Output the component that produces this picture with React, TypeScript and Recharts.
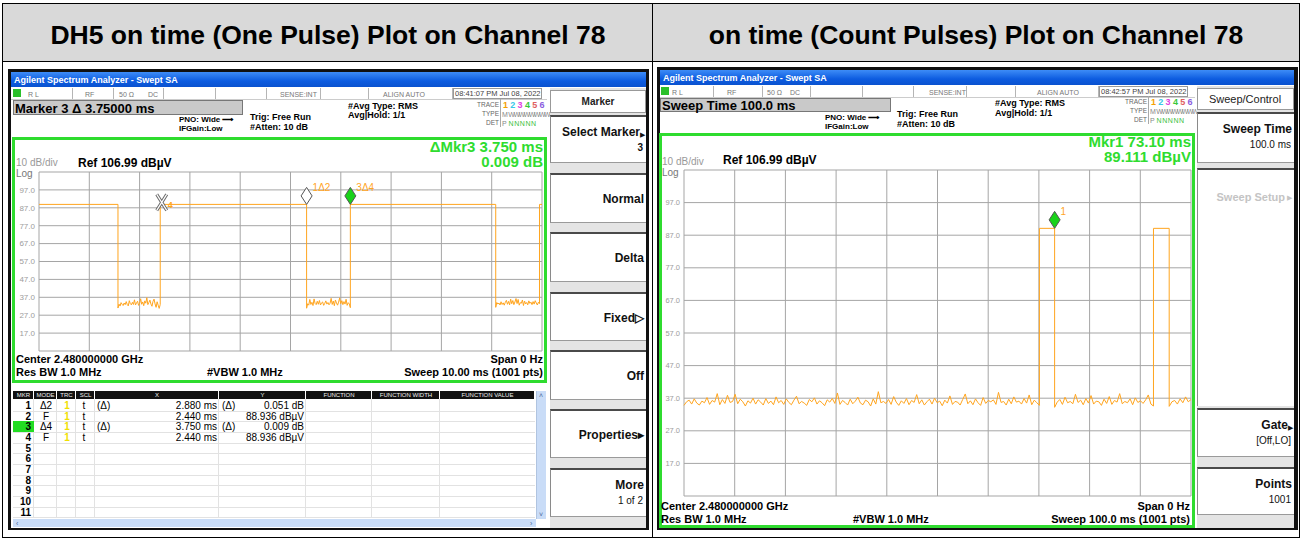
import React from 'react'
import { LineChart, Line, XAxis, YAxis, CartesianGrid, ReferenceDot } from 'recharts'

const FONT = '"Liberation Sans", Arial, sans-serif'
const TRACE = '#ffa51f'
const GREEN = '#2fdc2f'

const captions = ['DH5 on time (One Pulse) Plot on Channel 78', 'on time (Count Pulses) Plot on Channel 78']

// shared amplitude axis, dBµV (ref 106.99, 10 dB/div)
const yTicks = [7, 17, 27, 37, 47, 57, 67, 77, 87, 97, 107]

// left: 10 ms sweep, one pulse
const oneXTicks = [0, 1, 2, 3, 4, 5, 6, 7, 8, 9, 10]
const oneEdges = [1.57, 2.41, 5.32, 6.19, 9.08, 9.95]
const oneHigh = 88.9
const oneNoiseA = [31.0, 33.2, 32.1, 34.0, 33.1, 32.4, 33.8, 32.9, 34.6, 33.0, 32.2, 35.1, 33.4, 32.8, 34.2, 33.0, 35.6, 32.7, 33.9, 34.8, 32.5, 33.6, 36.2, 33.1, 34.4, 32.3, 35.0, 33.7, 36.8, 32.9, 34.1, 35.4, 33.2, 32.0, 34.7, 36.0, 33.3, 31.4, 34.5, 32.6, 30.8, 33.0]
const oneNoiseB = [30.9, 33.4, 32.6, 35.8, 33.0, 34.2, 32.4, 36.1, 33.5, 32.9, 34.8, 33.1, 35.2, 32.7, 33.9, 34.4, 32.5, 33.6, 35.0, 33.2, 34.1, 32.8, 33.7, 36.4, 33.0, 34.9, 32.3, 35.5, 33.8, 32.6, 34.3, 36.7, 33.4, 35.1, 32.9, 34.6, 33.2, 35.9, 32.5, 34.0, 33.3, 31.2]
const oneNoiseC = [31.4, 34.1, 33.2, 33.8, 32.7, 34.5, 33.0, 33.9, 32.6, 34.2, 35.3, 33.1, 34.7, 32.8, 36.0, 33.4, 35.2, 32.9, 34.4, 36.3, 33.5, 35.8, 32.6, 34.0, 33.7, 35.5, 32.4, 34.9, 33.3, 34.1, 32.8, 35.0, 33.6, 34.3, 32.9, 34.6, 33.2, 35.1, 33.8, 32.7, 34.2, 33.5]

// right: 100 ms sweep, two pulses
const countXTicks = [0, 10, 20, 30, 40, 50, 60, 70, 80, 90, 100]
const countEdges = [70.1, 73.1, 92.6, 95.7]
const countHigh = 89.1
const countNoiseA = [
  34.8, 35.9, 36.4, 35.2, 36.8, 35.5, 34.9, 36.1, 35.6, 37.2, 35.1, 36.3, 35.8, 38.4, 35.0, 36.6, 35.4, 37.9, 35.7, 36.0,
  38.2, 35.3, 36.7, 35.9, 34.6, 36.2, 35.5, 37.0, 35.2, 36.5, 35.8, 34.9, 36.9, 35.4, 36.1, 35.0, 37.4, 35.6, 36.3, 35.1,
  36.8, 35.7, 35.0, 36.4, 37.6, 35.3, 36.0, 35.5, 34.8, 36.6, 35.9, 37.1, 35.2, 36.2, 35.6, 34.7, 36.5, 35.8, 36.9, 35.4,
  38.6, 35.1, 36.3, 35.7, 34.9, 36.7, 35.3, 36.1, 37.3, 35.5, 35.0, 36.4, 35.9, 34.6, 36.8, 35.2, 39.0, 35.6, 36.0, 35.4,
  36.6, 35.1, 37.5, 35.8, 34.8, 36.2, 35.4, 36.9, 35.0, 36.3, 35.7, 38.1, 35.3, 36.5, 34.9, 35.9, 36.7, 35.2, 37.0, 35.6,
  36.1, 34.7, 36.4, 35.5, 37.7, 35.1, 36.0, 35.8, 34.9, 36.6, 38.3, 35.3, 36.2, 35.0, 36.8, 35.6, 34.8, 37.2, 35.4, 36.3,
  35.9, 36.5, 35.1, 38.8, 35.7, 36.0, 34.9, 36.7, 35.3, 37.4, 35.8, 36.1, 35.2, 36.9, 35.5, 38.0, 35.0, 36.4, 35.6, 34.8,
]
const countNoiseB = [34.2, 35.8, 36.6, 35.1, 37.3, 35.6, 36.0, 35.3, 38.2, 35.7, 36.4, 35.0, 36.9, 35.5, 37.8, 35.2, 36.1, 35.9, 34.8, 36.7, 35.4, 37.5, 35.1, 36.3, 35.8, 38.4, 35.3, 36.0, 35.6, 36.8, 35.0, 37.1, 35.7, 36.2, 35.4, 36.5, 38.0, 35.2, 34.6]
const countNoiseC = [34.5, 35.9, 36.3, 35.2, 36.8, 35.6, 37.4, 35.9, 36.6]

type Pt = { t: number; v: number }
type Mk = { id: string; t: number; v: number; kind: 'open' | 'filled' | 'x'; label: string }

const oneMarkers: Mk[] = [
  { id: 'm4', t: 2.44, v: 88.9, kind: 'x', label: '4' },
  { id: 'm1', t: 5.32, v: 88.9, kind: 'open', label: '1Δ2' },
  { id: 'm3', t: 6.19, v: 88.9, kind: 'filled', label: '3Δ4' },
]
const countMarkers: Mk[] = [{ id: 'm1', t: 73.1, v: 89.1, kind: 'filled', label: '1' }]

const markerRows = [
  ['1', 'Δ2', '1', 't', '(Δ)', '2.880 ms', '(Δ)', '0.051 dB'],
  ['2', 'F', '1', 't', '', '2.440 ms', '', '88.936 dBµV'],
  ['3', 'Δ4', '1', 't', '(Δ)', '3.750 ms', '(Δ)', '0.009 dB'],
  ['4', 'F', '1', 't', '', '2.440 ms', '', '88.936 dBµV'],
  ['5'], ['6'], ['7'], ['8'], ['9'], ['10'], ['11'],
]

function buildTrace(edges: number[], end: number, startHigh: boolean, high: number, noise: number[][]): Pt[] {
  const bounds = [0, ...edges, end]
  const pts: Pt[] = []
  let isHigh = startHigh
  let n = 0
  for (let i = 0; i < bounds.length - 1; i++) {
    const a = bounds[i]
    const b = bounds[i + 1]
    if (isHigh) {
      pts.push({ t: a, v: high }, { t: b, v: high })
    } else {
      const vals = noise[n++]
      vals.forEach((v, k) => pts.push({ t: a + ((b - a) * k) / (vals.length - 1), v }))
    }
    isHigh = !isHigh
  }
  return pts
}

const oneTrace = buildTrace(oneEdges, 10, true, oneHigh, [oneNoiseA, oneNoiseB, oneNoiseC])
const countTrace = buildTrace(countEdges, 100, false, countHigh, [countNoiseA, countNoiseB, countNoiseC])

function Tx({ x, cy, size = 10, bold = false, color = '#000', align = 'left', children, style }: any) {
  const W = 400
  const left = align === 'left' ? x : align === 'right' ? x - W : x - W / 2
  return (
    <div
      style={{
        position: 'absolute', left, top: cy - size / 2, width: align === 'left' ? undefined : W,
        textAlign: align, fontSize: size, lineHeight: `${size}px`, fontWeight: bold ? 700 : 400,
        color, whiteSpace: 'nowrap', fontFamily: FONT, ...style,
      }}
    >
      {children}
    </div>
  )
}

function Rect({ x, y, w, h, style }: any) {
  return <div style={{ position: 'absolute', left: x, top: y, width: w, height: h, boxSizing: 'border-box', ...style }} />
}

function MarkerShape({ cx, cy, m }: any) {
  if (m.kind === 'x') {
    const d = `M${cx - 5},${cy - 10} L${cx + 5},${cy + 6} M${cx + 5},${cy - 10} L${cx - 5},${cy + 6}`
    return (
      <g>
        <path d={d} stroke="#6a6a6a" strokeWidth={3.2} />
        <path d={d} stroke="#ffffff" strokeWidth={1.2} />
        <text x={cx + 6} y={cy + 4} fill={TRACE} fontSize={9} fontWeight="bold" fontFamily={FONT}>{m.label}</text>
      </g>
    )
  }
  const d = `M${cx},${cy} L${cx + 5.5},${cy - 8.5} L${cx},${cy - 17} L${cx - 5.5},${cy - 8.5} Z`
  return (
    <g>
      <path d={d} fill={m.kind === 'filled' ? '#19d219' : '#ffffff'} stroke="#555" strokeWidth={1} />
      <text x={cx + 6} y={cy - 13} fill={TRACE} fontSize={10} fontFamily={FONT}>{m.label}</text>
    </g>
  )
}

function TracePlot({ left, top, plotW, plotH, data, xMax, xTicks, markers, tickSize }: any) {
  return (
    <div style={{ position: 'absolute', left, top }}>
      <LineChart width={26 + plotW + 1} height={plotH + 2} data={data} margin={{ top: 1, right: 1, bottom: 1, left: 0 }}>
        <CartesianGrid stroke="#a5a5a5" />
        <XAxis type="number" dataKey="t" domain={[0, xMax]} ticks={xTicks} hide />
        <YAxis
          type="number" domain={[7, 107]} ticks={yTicks} interval={0} width={26}
          axisLine={false} tickLine={false} tickSize={0} tickMargin={4}
          tick={{ fontSize: tickSize, fill: '#9c9c9c', fontFamily: FONT }}
          tickFormatter={(v: number) => (v === 7 || v === 107 ? '' : v.toFixed(1))}
        />
        <Line type="linear" dataKey="v" stroke={TRACE} strokeWidth={1} dot={false} isAnimationActive={false} />
        {markers.map((m: Mk) => (
          <ReferenceDot key={m.id} x={m.t} y={m.v} r={0} shape={(p: any) => <MarkerShape {...p} m={m} />} />
        ))}
      </LineChart>
    </div>
  )
}

function TitleBar({ x, y, w }: any) {
  return (
    <>
      <Rect x={x} y={y} w={w} h={15} style={{ background: 'linear-gradient(#3d8cf7, #0d5ce0 60%, #0a52cf)' }} />
      <Tx x={x + 3} cy={y + 8} size={9} color="#fff" bold>Agilent Spectrum Analyzer - Swept SA</Tx>
    </>
  )
}

function StatusRow({ y, dividers, items, time }: any) {
  return (
    <>
      {dividers.map((d: number) => <Rect key={d} x={d} y={y} w={1} h={11} style={{ background: '#b5b5b5' }} />)}
      {items.map(([x, t]: any) => <Tx key={t} x={x} cy={y + 6} size={7} color="#777">{t}</Tx>)}
      <Rect x={time[0]} y={y} w={time[1] - time[0]} h={11} style={{ border: '1px solid #999' }} />
      <Tx x={time[0] + 2} cy={y + 6} size={7.5} color="#444">{time[2]}</Tx>
    </>
  )
}

function TracePanel({ x, y }: any) {
  const nums = [['1', '#f5a000'], ['2', '#38c8e8'], ['3', '#e040e0'], ['4', '#39c839'], ['5', '#e06060'], ['6', '#8a5ce0']]
  return (
    <>
      <Tx x={x} cy={y} size={6.5} color="#666" align="right">TRACE</Tx>
      <Tx x={x} cy={y + 9} size={6.5} color="#666" align="right">TYPE</Tx>
      <Tx x={x} cy={y + 18} size={6.5} color="#666" align="right">DET</Tx>
      <Rect x={x + 1} y={y - 6} w={1} h={28} style={{ background: '#aaa' }} />
      {nums.map(([n, c], i) => (
        <Tx key={n} x={x + 4 + i * 7.3} cy={y} size={9} color={c} bold>{n}</Tx>
      ))}
      <Tx x={x + 3} cy={y + 9} size={7} color="#888">M<span style={{ letterSpacing: -1.5 }}> WWWWWWWWWW</span></Tx>
      <Tx x={x + 3} cy={y + 18} size={7} color="#888">P <span style={{ color: '#3cc03c', letterSpacing: 0.6 }}>NNNNN</span></Tx>
    </>
  )
}

function Key({ x, y, w, h, title, sub, arrow, color = '#111', subBold = false }: any) {
  return (
    <>
      <Rect x={x} y={y} w={w} h={h} style={{ background: '#fff', borderTop: '2px solid #4a4a4a', borderLeft: '1px solid #8a8a8a', borderBottom: '1px solid #9a9a9a' }} />
      {title && <Tx x={x + w - (arrow ? 6 : 2)} cy={y + (sub ? 17 : h / 2 + 1)} size={12} bold color={color} align="right">{title}</Tx>}
      {arrow && <Tx x={x + w - 1} cy={y + (sub ? 19 : h / 2 + 2)} size={7} color={color} align="right">{arrow}</Tx>}
      {sub && <Tx x={x + w - 3} cy={y + 33} size={10} bold={subBold} color={color} align="right">{sub}</Tx>}
    </>
  )
}

function BottomInfo({ x, right, cy, sweep, vbwX }: any) {
  return (
    <>
      <Tx x={x} cy={cy} size={11} bold>Center 2.480000000 GHz</Tx>
      <Tx x={x} cy={cy + 13} size={11} bold>Res BW 1.0 MHz</Tx>
      <Tx x={vbwX} cy={cy + 13} size={11} bold>#VBW 1.0 MHz</Tx>
      <Tx x={right} cy={cy} size={11} bold align="right">Span 0 Hz</Tx>
      <Tx x={right} cy={cy + 13} size={11} bold align="right">{sweep}</Tx>
    </>
  )
}

function MarkerTable() {
  const cols = [13, 34, 57, 76, 95, 219, 306, 372, 440, 535]
  const heads = ['MKR', 'MODE', 'TRC', 'SCL', 'X', 'Y', 'FUNCTION', 'FUNCTION WIDTH', 'FUNCTION VALUE']
  const top = 400
  const rh = 10.67
  return (
    <>
      <Rect x={13} y={389} w={533} h={139} style={{ background: '#fff' }} />
      {heads.map((h, i) => (
        <React.Fragment key={h}>
          <Rect x={cols[i]} y={391} w={cols[i + 1] - cols[i] - 1} h={8} style={{ background: '#111' }} />
          <Tx x={(cols[i] + cols[i + 1]) / 2} cy={395} size={6} color="#eee" align="center">{h}</Tx>
        </React.Fragment>
      ))}
      {markerRows.map((_, r) => (
        <Rect key={'h' + r} x={13} y={top + (r + 1) * rh} w={522} h={1} style={{ background: '#e2e2e2' }} />
      ))}
      {cols.slice(1, 9).map((c) => <Rect key={'v' + c} x={c - 1} y={399} w={1} h={119} style={{ background: '#e2e2e2' }} />)}
      <Rect x={13} y={top + 2 * rh} w={21} h={rh} style={{ background: '#22dd22' }} />
      {markerRows.map((row, r) => {
        const cy = top + r * rh + rh / 2 + 0.5
        return (
          <React.Fragment key={r}>
            <Tx x={31} cy={cy} size={10} bold align="right">{row[0]}</Tx>
            {row.length > 1 && (
              <>
                <Tx x={46} cy={cy} size={10} align="center">{row[1]}</Tx>
                <Tx x={67} cy={cy} size={10} color="#f0e000" bold align="center">{row[2]}</Tx>
                <Tx x={84} cy={cy} size={10} align="center">{row[3]}</Tx>
                <Tx x={97} cy={cy} size={10}>{row[4]}</Tx>
                <Tx x={217} cy={cy} size={10} align="right">{row[5]}</Tx>
                <Tx x={222} cy={cy} size={10}>{row[6]}</Tx>
                <Tx x={304} cy={cy} size={10} align="right">{row[7]}</Tx>
              </>
            )}
          </React.Fragment>
        )
      })}
      <Rect x={536} y={391} w={10} h={128} style={{ background: '#c9dcf7', borderLeft: '1px solid #b0c4e0' }} />
      <Tx x={541} cy={395} size={7} color="#4a6a9a" align="center">˄</Tx>
      <Tx x={541} cy={514} size={7} color="#4a6a9a" align="center">˅</Tx>
      <Rect x={13} y={519} w={523} h={8} style={{ background: '#c9dcf7' }} />
      <Tx x={16} cy={523} size={7} color="#4a6a9a">‹</Tx>
      <Tx x={530} cy={523} size={7} color="#4a6a9a">›</Tx>
    </>
  )
}

function OnePulseScreen() {
  return (
    <>
      <Rect x={8} y={69} w={641} h={461} style={{ background: '#111' }} />
      <Rect x={11} y={72} w={636} h={456} style={{ background: '#fff' }} />
      <TitleBar x={11} y={72} w={636} />
      <StatusRow
        y={88}
        dividers={[72, 113, 163, 215, 266, 320, 368, 452]}
        items={[[28, 'R L'], [85, 'RF'], [119, '50 Ω'], [148, 'DC'], [280, 'SENSE:INT'], [383, 'ALIGN AUTO']]}
        time={[453, 542, '08:41:07 PM Jul 08, 2022']}
      />
      <Rect x={13} y={89} w={8} h={8} style={{ background: '#2bc02b' }} />
      <Rect x={11} y={99} w={536} h={1} style={{ background: '#ccc' }} />
      <Rect x={13} y={100} w={230} h={15} style={{ background: '#c9c9c9', border: '1px solid #777' }} />
      <Tx x={15} cy={108} size={13} bold>Marker 3 Δ 3.75000 ms</Tx>
      <Tx x={179} cy={120} size={8} bold>PNO: Wide ⟶</Tx>
      <Tx x={179} cy={129} size={8} bold>IFGain:Low</Tx>
      <Tx x={250} cy={117} size={9} bold>Trig: Free Run</Tx>
      <Tx x={250} cy={127} size={9} bold>#Atten: 10 dB</Tx>
      <Tx x={348} cy={106} size={9} bold>#Avg Type: RMS</Tx>
      <Tx x={348} cy={115} size={9} bold>Avg|Hold: 1/1</Tx>
      <TracePanel x={499} y={105} />

      <Rect x={12} y={137} w={535} h={246} style={{ border: `3px solid ${GREEN}` }} />
      <Tx x={543} cy={146.5} size={15} bold color={GREEN} align="right">ΔMkr3 3.750 ms</Tx>
      <Tx x={543} cy={161.5} size={15} bold color={GREEN} align="right">0.009 dB</Tx>
      <Tx x={16} cy={163} size={10} color="#999">10 dB/div</Tx>
      <Tx x={78} cy={163} size={12} bold>Ref 106.99 dBµV</Tx>
      <Tx x={16} cy={173.5} size={10} color="#777">Log</Tx>
      <TracePlot left={13} top={171} plotW={503} plotH={179} data={oneTrace} xMax={10} xTicks={oneXTicks} markers={oneMarkers} tickSize={8} />
      <BottomInfo x={16} right={543} cy={359} vbwX={207} sweep="Sweep  10.00 ms (1001 pts)" />

      <MarkerTable />

      <Rect x={550} y={88} w={96} h={440} style={{ background: '#e4e4e4' }} />
      <Rect x={550} y={90} w={96} h={23} style={{ background: '#fff', border: '1px solid #999' }} />
      <Tx x={598} cy={102} size={10} bold align="center" color="#222">Marker</Tx>
      <Key x={550} y={115} w={96} h={48} title="Select Marker" sub="3" arrow="▶" subBold />
      <Key x={550} y={173} w={96} h={50} title="Normal" />
      <Key x={550} y={232} w={96} h={50} title="Delta" />
      <Key x={550} y={292} w={96} h={49} title="Fixed▷" />
      <Key x={550} y={350} w={96} h={50} title="Off" />
      <Key x={550} y={409} w={96} h={49} title="Properties▸" />
      <Key x={550} y={468} w={96} h={49} title="More" sub="1 of 2" />
      <Rect x={646} y={69} w={3} h={461} style={{ background: '#111' }} />
    </>
  )
}

function CountPulsesScreen() {
  return (
    <>
      <Rect x={657} y={67} w={641} h={463} style={{ background: '#111' }} />
      <Rect x={660} y={70} w={635} h={458} style={{ background: '#fff' }} />
      <TitleBar x={660} y={70} w={635} />
      <StatusRow
        y={86}
        dividers={[713, 762, 810, 862, 913, 966, 1015, 1098]}
        items={[[672, 'R L'], [727, 'RF'], [767, '50 Ω'], [790, 'DC'], [929, 'SENSE:INT'], [1037, 'ALIGN AUTO']]}
        time={[1099, 1188, '08:42:57 PM Jul 08, 2022']}
      />
      <Rect x={661} y={87} w={8} h={8} style={{ background: '#2bc02b' }} />
      <Rect x={660} y={97} w={535} h={1} style={{ background: '#ccc' }} />
      <Rect x={660} y={98} w={231} h={14} style={{ background: '#c9c9c9', border: '1px solid #777' }} />
      <Tx x={662} cy={105} size={13} bold>Sweep Time 100.0 ms</Tx>
      <Tx x={825} cy={118} size={8} bold>PNO: Wide ⟶</Tx>
      <Tx x={825} cy={127} size={8} bold>IFGain:Low</Tx>
      <Tx x={897} cy={114} size={9} bold>Trig: Free Run</Tx>
      <Tx x={897} cy={124} size={9} bold>#Atten: 10 dB</Tx>
      <Tx x={995} cy={103} size={9} bold>#Avg Type: RMS</Tx>
      <Tx x={995} cy={113} size={9} bold>Avg|Hold: 1/1</Tx>
      <TracePanel x={1147} y={102} />

      <Rect x={659} y={133} w={536} h={395} style={{ border: `3px solid ${GREEN}` }} />
      <Tx x={1191} cy={141.5} size={15} bold color={GREEN} align="right">Mkr1 73.10 ms</Tx>
      <Tx x={1191} cy={156.5} size={15} bold color={GREEN} align="right">89.111 dBµV</Tx>
      <Tx x={662} cy={161.5} size={10} color="#999">10 dB/div</Tx>
      <Tx x={723} cy={160} size={12} bold>Ref 106.99 dBµV</Tx>
      <Tx x={662} cy={172.5} size={10} color="#777">Log</Tx>
      <TracePlot left={658} top={169} plotW={507} plotH={326} data={countTrace} xMax={100} xTicks={countXTicks} markers={countMarkers} tickSize={7.5} />
      <BottomInfo x={661} right={1190} cy={506} vbwX={853} sweep="Sweep  100.0 ms (1001 pts)" />

      <Rect x={1197} y={86} w={97} h={442} style={{ background: '#e4e4e4' }} />
      <Rect x={1197} y={88} w={97} h={22} style={{ background: '#fff', border: '1px solid #999' }} />
      <Tx x={1245} cy={99} size={11} align="center" color="#222">Sweep/Control</Tx>
      <Key x={1197} y={112} w={97} h={51} title="Sweep Time" sub="100.0 ms" />
      <Rect x={1197} y={168} w={97} h={238} style={{ background: '#fff', borderTop: '2px solid #4a4a4a', borderLeft: '1px solid #8a8a8a' }} />
      <Tx x={1285} cy={197} size={11} bold color="#c4c4c4" align="right">Sweep Setup</Tx>
      <Tx x={1292} cy={197} size={7} color="#c4c4c4" align="right">▶</Tx>
      <Key x={1197} y={408} w={97} h={49} title="Gate" sub="[Off,LO]" arrow="▶" />
      <Key x={1197} y={467} w={97} h={48} title="Points" sub="1001" />
      <Rect x={1294} y={67} w={4} h={463} style={{ background: '#111' }} />
    </>
  )
}

export default function App() {
  return (
    <div style={{ position: 'absolute', left: 0, top: 0, width: 1301, height: 540, background: '#fff', fontFamily: FONT, overflow: 'hidden' }}>
      <Rect x={3} y={4} w={1296} h={57} style={{ background: '#d9d9d9' }} />
      {captions.map((c, i) => (
        <Tx key={c} x={i === 0 ? 328 : 976} cy={35} size={26.5} bold align="center" style={{ width: 640, left: (i === 0 ? 328 : 976) - 320 }}>{c}</Tx>
      ))}
      <Rect x={2} y={3} w={1298} h={535} style={{ border: '1px solid #000' }} />
      <Rect x={2} y={61} w={1298} h={1} style={{ background: '#000' }} />
      <Rect x={652} y={3} w={1} h={535} style={{ background: '#000' }} />
      <OnePulseScreen />
      <CountPulsesScreen />
    </div>
  )
}
